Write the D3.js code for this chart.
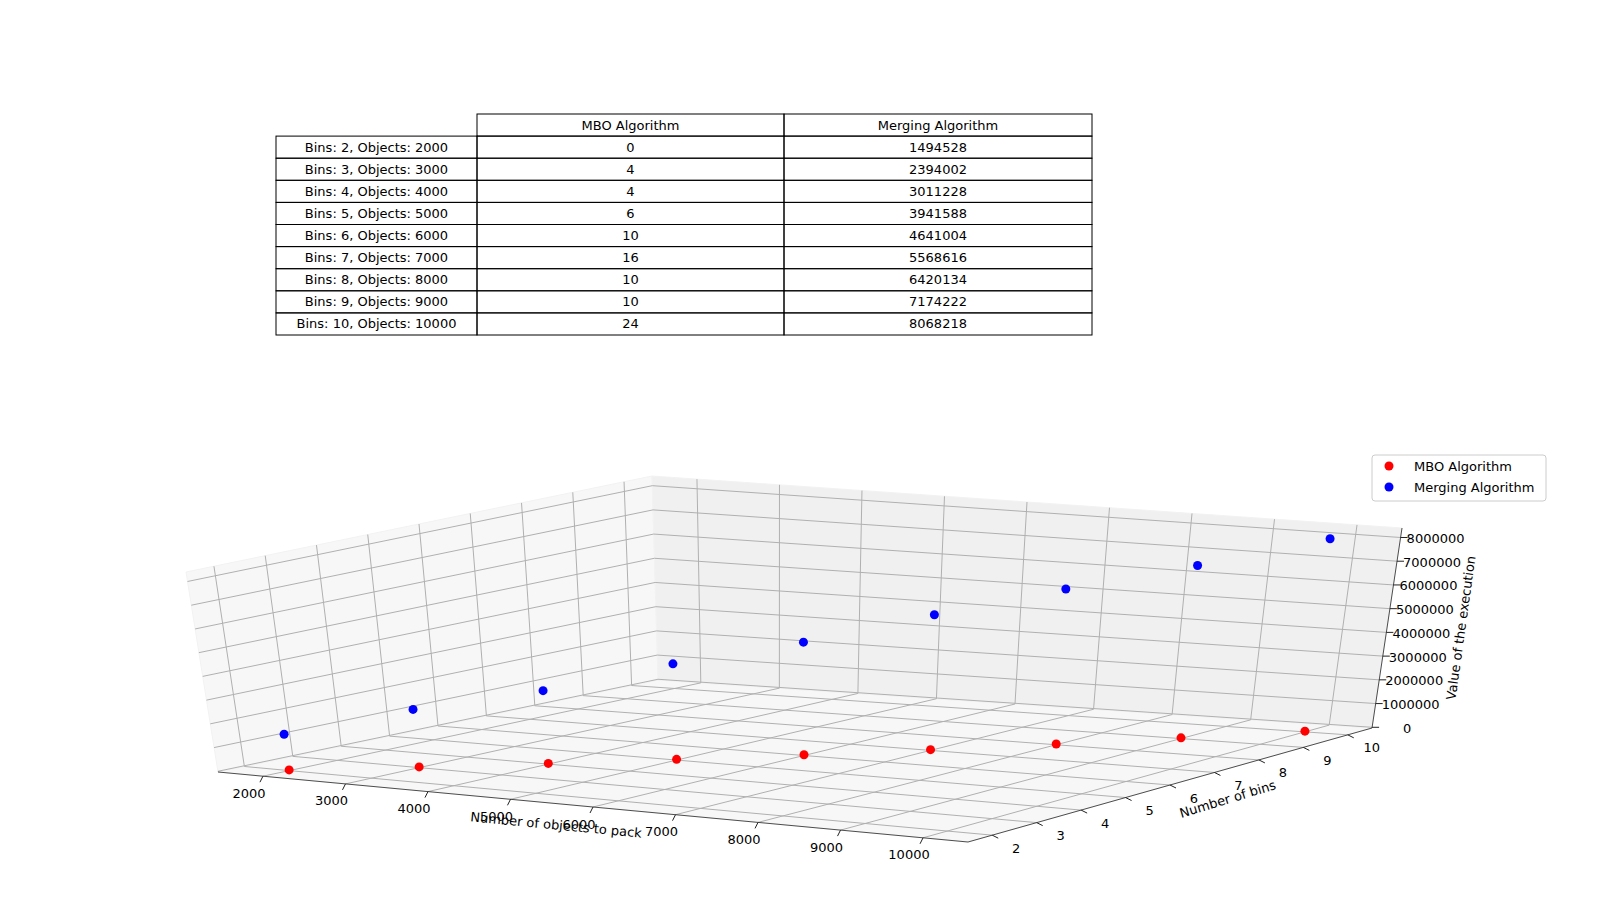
<!DOCTYPE html>
<html><head><meta charset="utf-8">
<script src="https://cdn.jsdelivr.net/npm/d3@7"></script>
<style>body{margin:0;background:#fff}svg{font-family:"DejaVu Sans",sans-serif}</style>
</head><body>
<svg id="c" width="1600" height="900"></svg>
<script>
const objects=[2000,3000,4000,5000,6000,7000,8000,9000,10000];
const bins=[2,3,4,5,6,7,8,9,10];
const mbo=[0,4,4,6,10,16,10,10,24];
const merging=[1494528,2394002,3011228,3941588,4641004,5568616,6420134,7174222,8068218];
const xTicks=[2000,3000,4000,5000,6000,7000,8000,9000,10000];
const yTicks=[2,3,4,5,6,7,8,9,10];
const zTicks=[0,1000000,2000000,3000000,4000000,5000000,6000000,7000000,8000000];
const colHeaders=["MBO Algorithm","Merging Algorithm"];

const svg=d3.select("#c");
const sx=d3.scaleLinear().domain([1455,10545]).range([0,1]);
const sy=d3.scaleLinear().domain([1.455,10.545]).range([0,1]);
const sz=d3.scaleLinear().domain([-30000,8400000]).range([0,1]);
const C={
 "000":[218,772],"100":[968,842],"010":[658,680],"110":[1372,728],
 "001":[186,572],"101":[972,628],"011":[652,476],"111":[1402,528]};
function P(u,v,w){
 let X=0,Y=0;
 for(const a of [0,1])for(const b of [0,1])for(const c of [0,1]){
  const wt=(a?u:1-u)*(b?v:1-v)*(c?w:1-w);const p=C[""+a+b+c];X+=wt*p[0];Y+=wt*p[1];}
 return [X,Y];}
const line=d3.line();
function seg(a,b,col,w){svg.append("path").attr("d",line([P(...a),P(...b)])).attr("stroke",col).attr("stroke-width",w).attr("fill","none");}
function poly(pts,fill){svg.append("path").attr("d",line(pts.map(p=>P(...p)))+"Z").attr("fill",fill).attr("stroke","#f2f2f2");}
poly([[0,0,0],[1,0,0],[1,1,0],[0,1,0]],"#f7f7f7");
poly([[0,0,0],[0,1,0],[0,1,1],[0,0,1]],"#f7f7f7");
poly([[0,1,0],[1,1,0],[1,1,1],[0,1,1]],"#f0f0f0");
const g="#b0b0b0";
xTicks.forEach(t=>{const u=sx(t);seg([u,0,0],[u,1,0],g,1);seg([u,1,0],[u,1,1],g,1);});
yTicks.forEach(t=>{const v=sy(t);seg([0,v,0],[1,v,0],g,1);seg([0,v,0],[0,v,1],g,1);});
zTicks.forEach(t=>{const w=sz(t);seg([0,0,w],[0,1,w],g,1);seg([0,1,w],[1,1,w],g,1);});
seg([0,0,0],[1,0,0],"#222",0.8);seg([1,0,0],[1,1,0],"#222",0.8);seg([1,1,0],[1,1,1],"#222",0.8);
function txt(x,y,s,anchor,rot){const t=svg.append("text").attr("x",x).attr("y",y).attr("font-size",13).attr("text-anchor",anchor||"middle").attr("dominant-baseline","middle").text(s);if(rot)t.attr("transform",`rotate(${rot},${x},${y})`);return t;}
xTicks.forEach(t=>{const p=P(sx(t),0,0);svg.append("line").attr("x1",p[0]).attr("y1",p[1]).attr("x2",p[0]-3).attr("y2",p[1]+6).attr("stroke","#222");txt(p[0]-14,p[1]+18,t);});
yTicks.forEach(t=>{const p=P(1,sy(t),0);svg.append("line").attr("x1",p[0]).attr("y1",p[1]).attr("x2",p[0]+6).attr("y2",p[1]+3).attr("stroke","#222");txt(p[0]+24,p[1]+14,t);});
zTicks.forEach(t=>{const p=P(1,1,sz(t));svg.append("line").attr("x1",p[0]).attr("y1",p[1]).attr("x2",p[0]+7).attr("y2",p[1]).attr("stroke","#222");txt(p[0]+35,p[1]+2,t);});
txt(556,826,"Number of objects to pack","middle",5.5);
txt(1228,800,"Number of bins","middle",-17);
txt(1462,628,"Value of the execution","middle",-82);
function pts(vals,col){objects.forEach((o,i)=>{const p=P(sx(o),sy(bins[i]),sz(vals[i]));svg.append("circle").attr("cx",p[0]).attr("cy",p[1]).attr("r",4.5).attr("fill",col);});}
pts(mbo,"#ff0000");pts(merging,"#0000ff");
svg.append("rect").attr("x",1372).attr("y",455).attr("width",174).attr("height",46).attr("rx",3).attr("fill","#fff").attr("stroke","#ccc");
[["MBO Algorithm","#ff0000"],["Merging Algorithm","#0000ff"]].forEach((d,i)=>{svg.append("circle").attr("cx",1389).attr("cy",466+i*21).attr("r",4.5).attr("fill",d[1]);txt(1414,467+i*21,d[0],"start");});
const cx=[276,477,784,1092],tTop=114,rh=22.1;
colHeaders.forEach((h,j)=>{svg.append("rect").attr("x",cx[j+1]).attr("y",tTop).attr("width",cx[j+2]-cx[j+1]).attr("height",rh).attr("fill","none").attr("stroke","#000");txt((cx[j+1]+cx[j+2])/2,tTop+rh/2+1,h);});
objects.forEach((o,i)=>{const y=tTop+rh*(i+1);const cells=[`Bins: ${bins[i]}, Objects: ${o}`,mbo[i],merging[i]];
 cells.forEach((c,j)=>{svg.append("rect").attr("x",cx[j]).attr("y",y).attr("width",cx[j+1]-cx[j]).attr("height",rh).attr("fill","none").attr("stroke","#000");txt((cx[j]+cx[j+1])/2,y+rh/2+1,c);});});
</script></body></html>
